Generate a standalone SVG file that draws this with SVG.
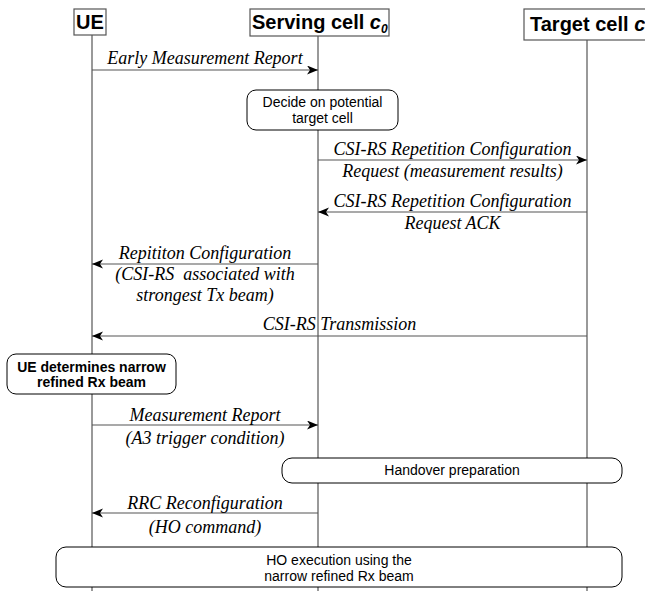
<svg xmlns="http://www.w3.org/2000/svg" width="645" height="591" viewBox="0 0 645 591">
<style>
.hdr{fill:#fff;stroke:#555;stroke-width:1.2}
.htxt{font-family:"Liberation Sans",Arial,sans-serif;font-weight:bold;font-size:20px;fill:#000}
.life{stroke:#555;stroke-width:1.2;fill:none}
.box{fill:#fff;stroke:#000;stroke-width:1}
.btxt{font-family:"Liberation Sans",Arial,sans-serif;font-size:14px;fill:#000;text-anchor:middle}
.bold{font-weight:bold}
.msg{stroke:#555;stroke-width:1.2;fill:none;marker-end:url(#arr)}
.mtxt{font-family:"Liberation Serif","Times New Roman",serif;font-style:italic;font-size:18px;fill:#000;text-anchor:middle}
</style>
<defs>
<marker id="arr" markerWidth="12" markerHeight="10" refX="11" refY="4.5" orient="auto" markerUnits="userSpaceOnUse">
<path d="M0,0 L11,4.5 L0,9 L3,4.5 Z" fill="#000"/>
</marker>
</defs>
<rect width="645" height="591" fill="#fff"/>
<g id="lifelines">
<line class="life" x1="92" y1="35" x2="92" y2="591"/>
<line class="life" x1="318" y1="36" x2="318" y2="591"/>
<line class="life" x1="587" y1="40" x2="587" y2="591" stroke="#222"/>
</g>
<g id="ue">
<rect class="hdr" x="74" y="9" width="32" height="26"/>
<text class="htxt" x="90" y="29" text-anchor="middle">UE</text>
</g>
<g id="serving">
<rect class="hdr" x="250" y="9" width="139" height="27"/>
<text class="htxt" x="252" y="29">Serving cell <tspan font-style="italic">c</tspan><tspan font-style="italic" font-size="12" dy="4">0</tspan></text>
</g>
<g id="target">
<rect class="hdr" x="524" y="9" width="140" height="31"/>
<text class="htxt" x="530" y="31">Target cell <tspan font-style="italic">c</tspan></text>
</g>
<g id="decide">
<rect class="box" x="247" y="90" width="151" height="40" rx="9"/>
<text class="btxt" x="322.5" y="106.5" font-size="14.8">Decide on potential</text>
<text class="btxt" x="322.5" y="123" font-size="14.8">target cell</text>
</g>
<g id="uedetermines">
<rect class="box" x="7" y="354" width="169" height="40" rx="9"/>
<text class="btxt bold" x="91.5" y="371.5">UE determines narrow</text>
<text class="btxt bold" x="91.5" y="387">refined Rx beam</text>
</g>
<g id="handover">
<rect class="box" x="282" y="458" width="340" height="25" rx="10"/>
<text class="btxt" x="452" y="475">Handover preparation</text>
</g>
<g id="hoexec">
<rect class="box" x="56" y="547" width="566" height="40" rx="10"/>
<text class="btxt" x="339" y="565">HO execution using the</text>
<text class="btxt" x="339" y="581">narrow refined Rx beam</text>
</g>
<g id="connectors">
<line class="msg" x1="92" y1="70" x2="318" y2="70"/>
<line class="msg" x1="318" y1="160" x2="587" y2="160"/>
<line class="msg" x1="587" y1="212" x2="318" y2="212" stroke="#222"/>
<line class="msg" x1="318" y1="264" x2="92" y2="264"/>
<line class="msg" x1="587" y1="336" x2="92" y2="336" stroke="#222"/>
<line class="msg" x1="92" y1="425" x2="318" y2="425" stroke="#222"/>
<line class="msg" x1="318" y1="513" x2="92" y2="513" stroke="#222"/>
</g>
<g id="labels">
<text class="mtxt" x="205" y="64">Early Measurement Report</text>
<text class="mtxt" x="452.5" y="155">CSI-RS Repetition Configuration</text>
<text class="mtxt" x="452.5" y="177">Request (measurement results)</text>
<text class="mtxt" x="452.5" y="207">CSI-RS Repetition Configuration</text>
<text class="mtxt" x="452.5" y="229">Request ACK</text>
<text class="mtxt" x="205" y="259">Repititon Configuration</text>
<text class="mtxt" x="205" y="280" xml:space="preserve">(CSI-RS  associated with</text>
<text class="mtxt" x="205" y="301">strongest Tx beam)</text>
<text class="mtxt" x="339.5" y="330">CSI-RS Transmission</text>
<text class="mtxt" x="205" y="421">Measurement Report</text>
<text class="mtxt" x="205" y="444">(A3 trigger condition)</text>
<text class="mtxt" x="205" y="509">RRC Reconfiguration</text>
<text class="mtxt" x="205" y="533">(HO command)</text>
</g>
</svg>
